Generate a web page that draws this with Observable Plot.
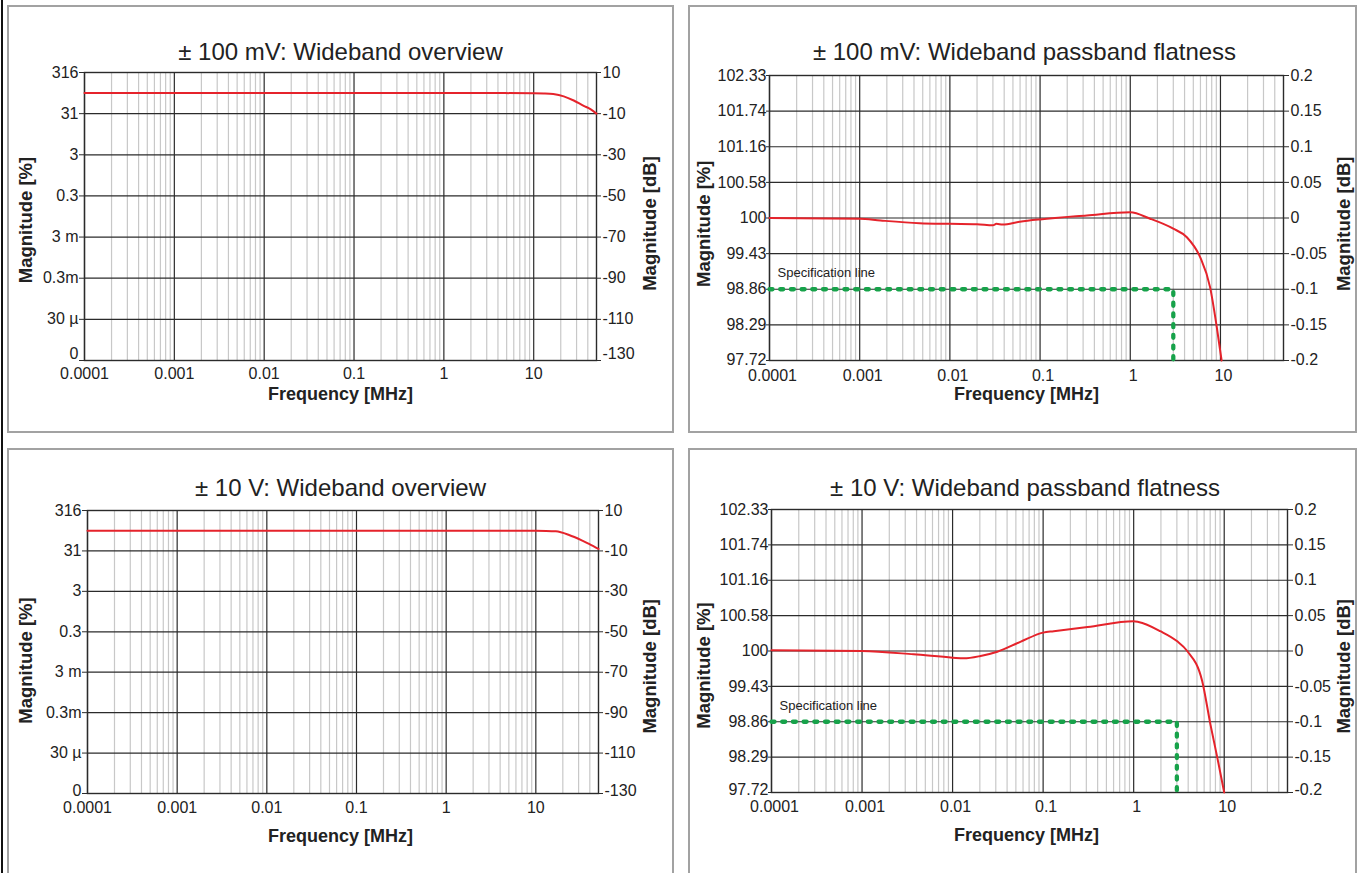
<!DOCTYPE html>
<html><head><meta charset="utf-8">
<script src="https://cdn.jsdelivr.net/npm/d3@7"></script>
<script src="https://cdn.jsdelivr.net/npm/@observablehq/plot@0.6"></script>
<style>
html,body{margin:0;padding:0;background:#fff;overflow:hidden;}
#page{position:relative;width:1362px;height:873px;overflow:hidden;background:#fff;font-family:"Liberation Sans",Arial,sans-serif;}
.panel{position:absolute;border:2px solid #a2a2a2;box-sizing:border-box;background:#fff;}
.edge{position:absolute;left:1px;top:0;width:2px;height:873px;background:#111;}
</style></head>
<body><div id="page"><div class="edge"></div></div>
<script>
// ---------- axis ticks / labels ----------
const decadeFreq = [0.0001, 0.001, 0.01, 0.1, 1, 10];
const decadeLabels = ["0.0001", "0.001", "0.01", "0.1", "1", "10"];
const freqMin = 0.0001, freqMax = 50;

const overviewDb = [10, -10, -30, -50, -70, -90, -110, -130];
const overviewPctLabels = ["316", "31", "3", "0.3", "3 m", "0.3m", "30 µ", "0"];
const overviewDbLabels = ["10", "-10", "-30", "-50", "-70", "-90", "-110", "-130"];

const flatDb = [0.2, 0.15, 0.1, 0.05, 0, -0.05, -0.1, -0.15, -0.2];
const flatPctLabels = ["102.33", "101.74", "101.16", "100.58", "100", "99.43", "98.86", "98.29", "97.72"];
const flatDbLabels = ["0.2", "0.15", "0.1", "0.05", "0", "-0.05", "-0.1", "-0.15", "-0.2"];

// ---------- series (frequency in MHz, magnitude in dB) ----------
const ov100Freq = [0.0001, 0.001, 0.01, 0.1, 1, 3, 10, 13, 16.5, 21.6, 27.9, 36, 42.8, 50];
const ov100Db   = [0, 0, 0, 0, 0, 0, -0.1, -0.2, -0.5, -1.6, -3.6, -6.2, -7.8, -10];

const ov10Freq = [0.0001, 0.001, 0.01, 0.1, 1, 10, 13, 16.7, 23.5, 33, 39.2, 50];
const ov10Db   = [0, 0, 0, 0, 0, -0.05, -0.1, -0.3, -2.1, -4.9, -6.5, -9.0];

const fl100Freq = [0.0001, 0.001, 0.0017, 0.0046, 0.01, 0.02, 0.03, 0.0328, 0.0384, 0.0595, 0.1, 0.33, 1, 1.66, 3.0, 4.24, 5.95, 7.67, 9.1, 10.3];
const fl100Db   = [0, -0.001, -0.0035, -0.0073, -0.0082, -0.0087, -0.0101, -0.0082, -0.0091, -0.0053, -0.002, 0.0035, 0.008, -0.001, -0.015, -0.027, -0.055, -0.097, -0.153, -0.2];

const fl10Freq = [0.0001, 0.001, 0.0037, 0.01, 0.0133, 0.0204, 0.0312, 0.056, 0.1, 0.131, 0.31, 1, 1.13, 1.97, 3.0, 3.9, 5.7, 7.05, 8.4, 10];
const fl10Db   = [0.001, 0, -0.0047, -0.0094, -0.0104, -0.007, -0.001, 0.013, 0.026, 0.028, 0.034, 0.042, 0.041, 0.028, 0.014, 0, -0.042, -0.104, -0.151, -0.2];

// specification line (-0.1 dB up to 3 MHz)
const specFreq = [0.0001, 3, 3];
const specDb   = [-0.1, -0.1, -0.2];
const specLabel = "Specification line";

// ---------- helpers ----------
const zip = (fs, ds) => fs.map((f, i) => ({f, db: ds[i]}));
const minorFreq = [];
for (const d of decadeFreq) for (let k = 2; k <= 9; k++) { const v = d * k; if (v < freqMax - 1e-9) minorFreq.push(v); }
const xLabelMap = new Map(decadeFreq.map((d, i) => [d, decadeLabels[i]]));

const RED = "#e5232b", GREEN = "#17a24a", DARK = "#2b2b2b", MINOR = "#c8c8c8";
const FONT = "'Liberation Sans', Arial, sans-serif";

function drawPanel(cfg) {
  const [bl, bt, br, bb] = cfg.box;
  const [fl, ft, fr, fb] = cfg.frame;
  const div = document.createElement("div");
  div.className = "panel";
  Object.assign(div.style, {left: bl + "px", top: bt + "px", width: (br - bl) + "px", height: (bb - bt) + "px"});
  document.getElementById("page").appendChild(div);
  const ox = bl + 2, oy = bt + 2, W = br - bl - 4, H = bb - bt - 4;
  const fcx = (fl + fr) / 2, fcy = (ft + fb) / 2;
  const bottom = cfg.yTicks[cfg.yTicks.length - 1];
  const leftMap = new Map(cfg.yTicks.map((d, i) => [d, cfg.leftLabels[i]]));
  const rightMap = new Map(cfg.yTicks.map((d, i) => [d, cfg.rightLabels[i]]));
  const marks = [
    Plot.ruleX(minorFreq, {stroke: MINOR, strokeWidth: 1.2}),
    Plot.ruleX(decadeFreq, {stroke: DARK, strokeWidth: 1.2}),
    Plot.ruleY(cfg.yTicks, {stroke: DARK, strokeWidth: 1.2}),
    Plot.frame({stroke: DARK, strokeWidth: 1.4}),
    Plot.axisX({ticks: decadeFreq, tickFormat: d => xLabelMap.get(d), tickSize: 0, tickPadding: cfg.xPad, label: null, dx: cfg.xdx || 0}),
    Plot.axisY({anchor: "left", ticks: cfg.yTicks, tickFormat: d => d === bottom ? "" : leftMap.get(d), tickSize: cfg.lTick[0], tickPadding: cfg.lTick[1], label: null, stroke: DARK}),
    Plot.axisY({anchor: "left", ticks: [bottom], tickFormat: d => leftMap.get(d), tickSize: 0, tickPadding: cfg.lTick[0] + cfg.lTick[1], label: null, dy: cfg.bottomDy}),
    Plot.axisY({anchor: "right", ticks: cfg.yTicks, tickFormat: d => d === bottom ? "" : rightMap.get(d), tickSize: cfg.rTick[0], tickPadding: cfg.rTick[1], label: null, stroke: DARK}),
    Plot.axisY({anchor: "right", ticks: [bottom], tickFormat: d => rightMap.get(d), tickSize: 0, tickPadding: cfg.rTick[0] + cfg.rTick[1], label: null, dy: cfg.bottomDy}),
  ];
  if (cfg.spec) {
    marks.push(Plot.line(zip(specFreq, specDb), {x: "f", y: "db", stroke: GREEN, strokeWidth: 4.3, strokeDasharray: "3 7.7", strokeLinecap: "round"}));
    marks.push(Plot.text([specLabel], {x: [specFreq[0]], y: [specDb[0]], text: d => d, textAnchor: "start", dx: 8, dy: -16, fontSize: 13, fill: "#222"}));
  }
  marks.push(Plot.line(cfg.series, {x: "f", y: "db", stroke: RED, strokeWidth: 2, curve: "monotone-x"}));
  marks.push(Plot.text([cfg.title], {text: d => d, frameAnchor: "top", textAnchor: "middle", dx: cfg.titlePos[0] - fcx, dy: cfg.titlePos[1] - ft, fontSize: 24, fill: "#222"}));
  marks.push(Plot.text(["Frequency [MHz]"], {text: d => d, frameAnchor: "bottom", textAnchor: "middle", dx: cfg.xlab[0] - fcx, dy: cfg.xlab[1] - fb, fontSize: 18, fontWeight: "bold", fill: "#222"}));
  marks.push(Plot.text(["Magnitude [%]"], {text: d => d, frameAnchor: "left", textAnchor: "middle", dx: cfg.ylabL[0] - fl, dy: cfg.ylabL[1] - fcy, rotate: -90, fontSize: 18.5, fontWeight: "bold", fill: "#222"}));
  marks.push(Plot.text(["Magnitude [dB]"], {text: d => d, frameAnchor: "right", textAnchor: "middle", dx: cfg.ylabR[0] - fr, dy: cfg.ylabR[1] - fcy, rotate: -90, fontSize: 18.5, fontWeight: "bold", fill: "#222"}));

  const svg = Plot.plot({
    width: W, height: H,
    marginLeft: fl - ox, marginTop: ft - oy, marginRight: ox + W - fr, marginBottom: oy + H - fb,
    x: {type: "log", domain: [freqMin, freqMax]},
    y: {domain: cfg.yDomain},
    style: {fontFamily: FONT, fontSize: "16px", color: "#222", background: "transparent", overflow: "visible"},
    marks
  });
  Object.assign(svg.style, {position: "absolute", left: "0px", top: "0px", maxWidth: "none"});
  div.appendChild(svg);
}

drawPanel({
  box: [7, 5, 674, 433], frame: [84, 72, 596, 360],
  title: "± 100 mV: Wideband overview", titlePos: [340, 42],
  xlab: [340, 399], ylabL: [25.5, 219.5], ylabR: [650, 223],
  yDomain: [-130, 10], yTicks: overviewDb, leftLabels: overviewPctLabels, rightLabels: overviewDbLabels,
  xPad: 7, lTick: [5, 1], rTick: [4, 2], bottomDy: -7,
  series: zip(ov100Freq, ov100Db), spec: false
});
drawPanel({
  box: [688, 5, 1357, 433], frame: [769, 75, 1283, 360],
  title: "± 100 mV: Wideband passband flatness", titlePos: [1024, 42],
  xlab: [1026, 399.5], ylabL: [703.3, 223.3], ylabR: [1343.3, 223.3],
  yDomain: [-0.2, 0.2], yTicks: flatDb, leftLabels: flatPctLabels, rightLabels: flatDbLabels,
  xPad: 9, xdx: 3, lTick: [3, 0], rTick: [5, 2], bottomDy: -1,
  series: zip(fl100Freq, fl100Db), spec: true
});
drawPanel({
  box: [7, 448, 674, 910], frame: [87, 510, 598, 793],
  title: "± 10 V: Wideband overview", titlePos: [340, 478.3],
  xlab: [340, 841.7], ylabL: [26, 660], ylabR: [650, 665.8],
  yDomain: [-130, 10], yTicks: overviewDb, leftLabels: overviewPctLabels, rightLabels: overviewDbLabels,
  xPad: 8, lTick: [5, 1], rTick: [4, 2], bottomDy: -3,
  series: zip(ov10Freq, ov10Db), spec: false
});
drawPanel({
  box: [688, 448, 1357, 910], frame: [771, 509, 1287, 792],
  title: "± 10 V: Wideband passband flatness", titlePos: [1024.5, 478.3],
  xlab: [1026, 840.7], ylabL: [703.3, 665], ylabR: [1343.3, 665.8],
  yDomain: [-0.2, 0.2], yTicks: flatDb, leftLabels: flatPctLabels, rightLabels: flatDbLabels,
  xPad: 8, xdx: 3, lTick: [3, 0], rTick: [5, 2], bottomDy: -3,
  series: zip(fl10Freq, fl10Db), spec: true
});
</script>
</body></html>
